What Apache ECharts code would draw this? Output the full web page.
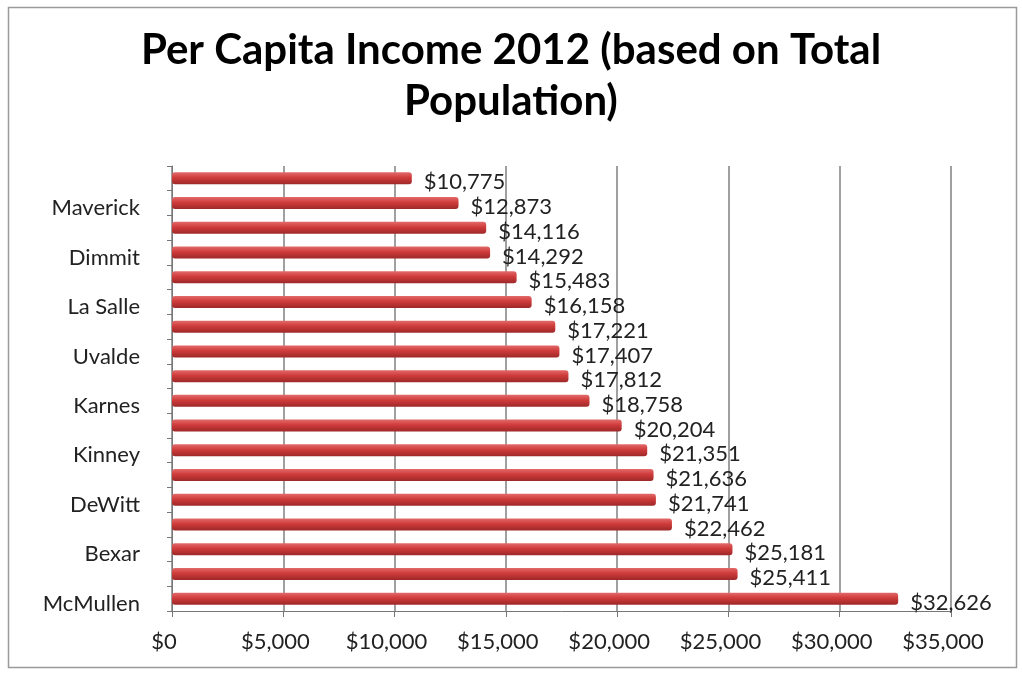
<!DOCTYPE html>
<html>
<head>
<meta charset="utf-8">
<script src="https://cdn.jsdelivr.net/npm/echarts@6/dist/echarts.min.js"></script>
<style>
html,body{margin:0;padding:0;background:#fff;}
#main{width:1022px;height:675px;}
</style>
</head>
<body>
<div id="main"></div>
<script>
const titleText = 'Per Capita Income 2012 (based on Total\nPopulation)';
const categories = ['', 'Maverick', '', 'Dimmit', '', 'La Salle', '', 'Uvalde', '', 'Karnes', '', 'Kinney', '', 'DeWitt', '', 'Bexar', '', 'McMullen'];
const incomes = [10775, 12873, 14116, 14292, 15483, 16158, 17221, 17407, 17812, 18758, 20204, 21351, 21636, 21741, 22462, 25181, 25411, 32626];
const xTicks = [0, 5000, 10000, 15000, 20000, 25000, 30000, 35000];

const fmt = v => '$' + Number(v).toLocaleString('en-US');
const chart = echarts.init(document.getElementById('main'));
chart.setOption({
  animation: false,
  backgroundColor: '#fff',
  title: {
    text: titleText,
    left: 'center',
    top: 20,
    textStyle: {fontFamily: 'Lato', fontWeight: 'bold', fontSize: 42, lineHeight: 51, color: '#000'}
  },
  graphic: [{
    type: 'rect', left: 6, top: 5,
    shape: {width: 1008, height: 660},
    style: {fill: 'none', stroke: '#9a9a9a', lineWidth: 1.5}
  }],
  grid: {left: 172, right: 71, top: 166, bottom: 64},
  xAxis: {
    type: 'value', min: xTicks[0], max: xTicks[xTicks.length - 1], interval: 5000,
    axisLine: {show: true, lineStyle: {color: '#777'}},
    axisTick: {show: true, length: 6, lineStyle: {color: '#777'}},
    axisLabel: {formatter: fmt, fontFamily: 'Lato', fontSize: 22, color: '#222', margin: 20, padding: [0, 16, 0, 0]},
    splitLine: {show: true, lineStyle: {color: '#808080', width: 1.5}}
  },
  yAxis: {
    type: 'category', data: categories, inverse: true, offset: 8,
    axisLine: {show: true, lineStyle: {color: '#777'}},
    axisTick: {show: true, length: 5, lineStyle: {color: '#777'}},
    axisLabel: {
      interval: 0, fontFamily: 'Lato', fontSize: 22, color: '#222', margin: 24,
      verticalAlign: 'top', lineHeight: 10,
      formatter: v => v
    }
  },
  series: [{
    type: 'bar', data: incomes, barWidth: 12,
    itemStyle: {
      borderRadius: 3,
      color: new echarts.graphic.LinearGradient(0, 0, 0, 1, [
        {offset: 0, color: '#e36a6a'},
        {offset: 0.45, color: '#cf3b3b'},
        {offset: 1, color: '#9e2828'}
      ])
    },
    label: {
      show: true, position: 'right', distance: 12, offset: [0, 4],
      formatter: p => fmt(p.value),
      fontFamily: 'Lato', fontSize: 22, color: '#222'
    }
  }]
});
</script>
</body>
</html>
